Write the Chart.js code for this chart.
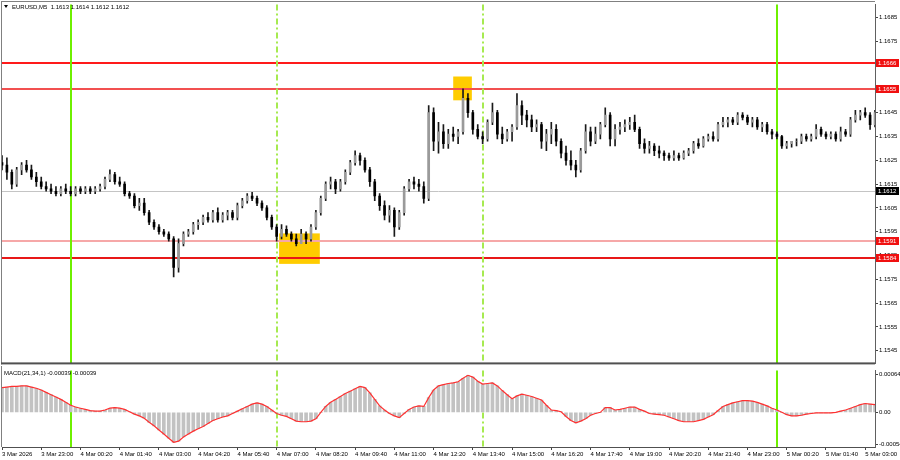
<!DOCTYPE html>
<html>
<head>
<meta charset="utf-8">
<script src="https://cdn.jsdelivr.net/npm/chart.js@4.4.1/dist/chart.umd.min.js"></script>
<style>
    html, body { margin: 0; padding: 0; background: #fff; }
    #wrap { position: relative; width: 900px; height: 460px; overflow: hidden; }
    #price { position: absolute; left: 0; top: 0; }
    #macd { position: absolute; left: 0; top: 366px; }
</style>
</head>
<body>
<div id="wrap">
    <canvas id="price" width="900" height="368"></canvas>
    <canvas id="macd" width="900" height="94"></canvas>
</div>
<script>
// EURUSD M5 candles, grouped by 10 minutes, first one = 3 Mar 21:40
const opens = [1.1624,
    1.1623,1.1620,1.1615,1.1621,1.1623,1.1621,1.1618,1.1616,1.1614,1.1613,
    1.1612,1.1611,1.1613,1.1612,1.1611,1.1613,1.1612,1.1613,1.1612,1.1613,
    1.1614,1.1617,1.1619,1.1616,1.1615,1.1611,1.1610,1.1606,1.1607,1.1603,
    1.1599,1.1597,1.1595,1.1594,1.1592,1.1580,1.1590,1.1594,1.1595,1.1598,
    1.1599,1.1601,1.1600,1.1603,1.1600,1.1602,1.1603,1.1601,1.1606,1.1608,
    1.1610,1.1609,1.1607,1.1605,1.1601,1.1597,1.1593,1.1596,1.1594,1.1592,
    1.1590,1.1594,1.1592,1.1597,1.1603,1.1609,1.1615,1.1616,1.1613,1.1616,
    1.1620,1.1624,1.1627,1.1625,1.1621,1.1616,1.1610,1.1606,1.1602,1.1604,
    1.1597,1.1603,1.1613,1.1616,1.1615,1.1614,1.1609,1.1645,1.1633,1.1637,
    1.1632,1.1636,1.1635,1.1637,1.1651,1.1645,1.1638,1.1635,1.1634,1.1641,
    1.1645,1.1636,1.1634,1.1637,1.1639,1.1648,1.1644,1.1642,1.1639,1.1640,
    1.1633,1.1636,1.1638,1.1633,1.1628,1.1625,1.1623,1.1621,1.1629,1.1637,
    1.1633,1.1636,1.1640,1.1644,1.1634,1.1638,1.1639,1.1640,1.1641,1.1638,
    1.1632,1.1630,1.1631,1.1629,1.1628,1.1627,1.1626,1.1627,1.1626,1.1628,
    1.1629,1.1632,1.1631,1.1634,1.1635,1.1634,1.1640,1.1641,1.1642,1.1641,
    1.1644,1.1643,1.1641,1.1642,1.1639,1.1640,1.1637,1.1636,1.1635,1.1631,
    1.1632,1.1633,1.1633,1.1635,1.1634,1.1635,1.1638,1.1636,1.1635,1.1636,
    1.1634,1.1637,1.1636,1.1642,1.1644,1.1645,1.1644,1.1640];
const highs = [1.1627,
    1.1626,1.1621,1.1622,1.1624,1.1625,1.1623,1.1620,1.1618,1.1616,1.1615,
    1.1614,1.1614,1.1615,1.1614,1.1614,1.1614,1.1614,1.1614,1.1614,1.1615,
    1.1618,1.1621,1.1620,1.1618,1.1616,1.1612,1.1611,1.1609,1.1609,1.1604,
    1.1600,1.1598,1.1596,1.1595,1.1593,1.1592,1.1595,1.1596,1.1599,1.1600,
    1.1602,1.1603,1.1604,1.1605,1.1603,1.1604,1.1604,1.1607,1.1609,1.1611,
    1.16115,1.1610,1.1608,1.1606,1.1602,1.1598,1.1598,1.15975,1.1595,1.1594,
    1.1596,1.1595,1.1598,1.1604,1.1610,1.1616,1.1618,1.1617,1.1617,1.1621,
    1.1625,1.1629,1.1628,1.1626,1.1622,1.1617,1.1611,1.1608,1.1606,1.1605,
    1.1604,1.1614,1.1617,1.1618,1.1617,1.1616,1.1648,1.1647,1.1641,1.1640,
    1.1638,1.1639,1.1638,1.1655,1.1653,1.1646,1.1640,1.1637,1.1642,1.1649,
    1.1646,1.1639,1.1638,1.1640,1.1653,1.1650,1.1646,1.1644,1.1642,1.1641,
    1.1638,1.1641,1.1640,1.1634,1.1631,1.1629,1.1625,1.1630,1.1640,1.1639,
    1.1639,1.1641,1.1647,1.1645,1.1640,1.1641,1.1642,1.1643,1.1644,1.1639,
    1.1634,1.1633,1.1632,1.1631,1.1629,1.1628,1.1629,1.1628,1.1629,1.1630,
    1.1633,1.1634,1.1635,1.1636,1.1637,1.1641,1.1643,1.1643,1.1643,1.1645,
    1.1645,1.1644,1.1643,1.1643,1.1641,1.1641,1.1638,1.1637,1.16355,1.1633,
    1.1633,1.1634,1.1636,1.1636,1.1636,1.1640,1.1639,1.1637,1.1637,1.1637,
    1.1639,1.1638,1.1643,1.1646,1.1646,1.1647,1.1645,1.1646];
const lows = [1.1621,
    1.1617,1.1613,1.1614,1.1619,1.1620,1.1617,1.1614,1.1613,1.1612,1.1611,
    1.1610,1.1610,1.1611,1.1610,1.1610,1.1611,1.1611,1.1611,1.1611,1.1612,
    1.1613,1.1616,1.1615,1.1614,1.1610,1.1609,1.1605,1.1604,1.1602,1.1598,
    1.1596,1.1594,1.1593,1.1591,1.1576,1.1578,1.1589,1.1593,1.1594,1.1596,
    1.1598,1.1599,1.1599,1.1599,1.1599,1.1600,1.1600,1.1600,1.1605,1.1607,
    1.1608,1.1606,1.1604,1.1600,1.1596,1.1591,1.1592,1.1593,1.1591,1.1589,
    1.1590,1.1590,1.1591,1.1596,1.1602,1.1608,1.1613,1.1611,1.1612,1.1615,
    1.1619,1.1623,1.1623,1.1620,1.1614,1.1608,1.1604,1.1600,1.1599,1.1593,
    1.1596,1.1602,1.1612,1.1613,1.1612,1.1607,1.1608,1.1629,1.1628,1.1630,
    1.1630,1.1633,1.1632,1.1636,1.1643,1.1636,1.1634,1.1632,1.1633,1.1640,
    1.1634,1.1632,1.1633,1.1633,1.1638,1.1640,1.1639,1.1637,1.1637,1.1630,
    1.1629,1.1632,1.1631,1.1626,1.1623,1.1621,1.1618,1.1620,1.1628,1.1631,
    1.1632,1.1634,1.1639,1.1631,1.1631,1.1636,1.1637,1.1638,1.1637,1.1630,
    1.1628,1.1628,1.1627,1.1626,1.1625,1.1625,1.1625,1.1625,1.16255,1.1627,
    1.1628,1.1630,1.16305,1.1633,1.1633,1.1633,1.1639,1.1639,1.1640,1.1640,
    1.1642,1.1640,1.1639,1.1638,1.1637,1.1636,1.1634,1.1634,1.1630,1.1630,
    1.16305,1.1631,1.1632,1.1633,1.1633,1.1634,1.1635,1.1634,1.1634,1.1633,
    1.1633,1.1635,1.1635,1.1641,1.1642,1.1643,1.1638,1.1639];
const closes = [1.1623,
    1.1620,1.1615,1.1621,1.1623,1.1621,1.1618,1.1616,1.1614,1.1613,1.1612,
    1.1611,1.1613,1.1612,1.1611,1.1613,1.1612,1.1613,1.1612,1.1613,1.1614,
    1.1617,1.1619,1.1616,1.1615,1.1611,1.1610,1.1606,1.1607,1.1603,1.1599,
    1.1597,1.1595,1.1594,1.1592,1.1580,1.1590,1.1594,1.1595,1.1598,1.1599,
    1.1601,1.1600,1.1603,1.1600,1.1602,1.1603,1.1601,1.1606,1.1608,1.1610,
    1.1609,1.1607,1.1605,1.1601,1.1597,1.1593,1.1596,1.1594,1.1592,1.1590,
    1.1594,1.1592,1.1597,1.1603,1.1609,1.1615,1.1616,1.1613,1.1616,1.1620,
    1.1624,1.1627,1.1625,1.1621,1.1616,1.1610,1.1606,1.1602,1.1604,1.1597,
    1.1603,1.1613,1.1616,1.1615,1.1614,1.1609,1.1645,1.1633,1.1637,1.1632,
    1.1636,1.1635,1.1637,1.1651,1.1645,1.1638,1.1635,1.1634,1.1641,1.1645,
    1.1636,1.1634,1.1637,1.1639,1.1648,1.1644,1.1642,1.1639,1.1640,1.1633,
    1.1636,1.1638,1.1633,1.1628,1.1625,1.1623,1.1621,1.1629,1.1637,1.1633,
    1.1636,1.1640,1.1644,1.1634,1.1638,1.1639,1.1640,1.1641,1.1638,1.1632,
    1.1630,1.1631,1.1629,1.1628,1.1627,1.1626,1.1627,1.1626,1.1628,1.1629,
    1.1632,1.1631,1.1634,1.1635,1.1634,1.1640,1.1641,1.1642,1.1641,1.1644,
    1.1643,1.1641,1.1642,1.1639,1.1640,1.1637,1.1636,1.1635,1.1631,1.1632,
    1.1633,1.1633,1.1635,1.1634,1.1635,1.1638,1.1636,1.1635,1.1636,1.1634,
    1.1637,1.1636,1.1642,1.1644,1.1645,1.1644,1.1640,1.1645];

// MACD(21,34,1) - signal period 1, so the signal line equals the histogram
const macdValues = [0.00042,
    0.00043,0.00044,0.00044,0.00045,0.00045,0.00043,0.00041,0.00038,0.00034,0.00030,
    0.00026,0.00022,0.00017,0.00012,0.00009,0.00007,0.00005,0.00003,0.00002,0.00002,
    0.00004,0.00007,0.00008,0.00007,0.00005,0.00001,-0.00003,-0.00006,-0.00010,-0.00017,
    -0.00023,-0.00030,-0.00037,-0.00044,-0.00051,-0.00049,-0.00042,-0.00037,-0.00032,-0.00028,
    -0.00024,-0.00019,-0.00014,-0.00011,-0.00008,-0.00006,-0.00002,0.00002,0.00006,0.00010,
    0.00014,0.00016,0.00014,0.00010,0.00004,-0.00002,-0.00005,-0.00007,-0.00011,-0.00015,
    -0.00016,-0.00016,-0.00015,-0.00011,0.00000,0.00010,0.00017,0.00022,0.00027,0.00032,
    0.00036,0.00040,0.00044,0.00042,0.00033,0.00022,0.00011,0.00004,-0.00002,-0.00006,
    -0.00009,-0.00002,0.00005,0.00009,0.00011,0.00010,0.00025,0.00038,0.00045,0.00047,
    0.00049,0.00050,0.00052,0.00058,0.00063,0.00060,0.00053,0.00048,0.00049,0.00050,
    0.00045,0.00037,0.00030,0.00023,0.00028,0.00031,0.00029,0.00027,0.00024,0.00021,
    0.00012,0.00004,0.00003,0.00001,-0.00007,-0.00014,-0.00018,-0.00015,-0.00011,-0.00005,
    -0.00002,0.00000,0.00008,0.00008,0.00004,0.00005,0.00007,0.00009,0.00009,0.00005,
    0.00002,-0.00002,-0.00003,-0.00004,-0.00005,-0.00008,-0.00011,-0.00014,-0.00016,-0.00016,
    -0.00016,-0.00014,-0.00012,-0.00008,-0.00004,0.00003,0.00010,0.00013,0.00016,0.00018,
    0.00020,0.00020,0.00019,0.00017,0.00014,0.00011,0.00007,0.00004,0.00000,-0.00004,
    -0.00006,-0.00006,-0.00005,-0.00003,-0.00002,-0.00001,-0.00001,-0.00001,-0.00001,0.00000,
    0.00002,0.00004,0.00007,0.00010,0.00013,0.00015,0.00014,0.00013];

// time axis labels, one every 8 candles (80 min)
const timeLabels = ['3 Mar 2026', '3 Mar 23:00', '4 Mar 00:20', '4 Mar 01:40', '4 Mar 03:00',
    '4 Mar 04:20', '4 Mar 05:40', '4 Mar 07:00', '4 Mar 08:20', '4 Mar 09:40', '4 Mar 11:00',
    '4 Mar 12:20', '4 Mar 13:40', '4 Mar 15:00', '4 Mar 16:20', '4 Mar 17:40', '4 Mar 19:00',
    '4 Mar 20:20', '4 Mar 21:40', '4 Mar 23:00', '5 Mar 00:20', '5 Mar 01:40', '5 Mar 03:00'];
const priceTicks = [1.1545, 1.1555, 1.1565, 1.1575, 1.1585, 1.1595, 1.1605, 1.1615,
    1.1625, 1.1635, 1.1645, 1.1655, 1.1665, 1.1675, 1.1685];
const macdTicks = [0.00064, 0, -0.00054];

// horizontal levels drawn on the chart
const levelPrices = [1.1666, 1.1655, 1.1591, 1.1584];
const lastPrice = 1.1612;

// candle indexes of the vertical separators
const dayBreaks = [14, 158];      // 4 Mar 00:00, 5 Mar 00:00
const sessionBreaks = [56, 98];   // 4 Mar 07:00, 4 Mar 14:00

// yellow signal zones (candle index range, price range)
const zoneFrom = [56.5, 92.0];
const zoneTo = [64.8, 95.8];
const zoneLow = [1.15815, 1.16502];
const zoneHigh = [1.15943, 1.16602];

const FONT = "'Liberation Sans', Arial, sans-serif";
Chart.defaults.font.family = FONT;
Chart.defaults.font.size = 6;
Chart.defaults.color = '#000';

const idx = opens.map((_, i) => i);
const isBull = i => closes[i] >= opens[i];

// Helper to draw a horizontal line across the plot
const hLine = (ctx, x1, x2, y, color, width) => {
    ctx.strokeStyle = color;
    ctx.lineWidth = width;
    ctx.beginPath();
    ctx.moveTo(x1, y);
    ctx.lineTo(x2, y);
    ctx.stroke();
};

// Green day / session separators, shared by both panels
const drawBreaks = (chart) => {
    const { ctx, chartArea: area, scales: { x } } = chart;
    ctx.save();
    ctx.lineWidth = 2;
    dayBreaks.forEach(i => {
        const px = Math.round(x.getPixelForValue(i));
        ctx.strokeStyle = '#6ef000';
        ctx.setLineDash([]);
        ctx.beginPath(); ctx.moveTo(px, area.top); ctx.lineTo(px, area.bottom); ctx.stroke();
    });
    sessionBreaks.forEach(i => {
        const px = Math.round(x.getPixelForValue(i));
        ctx.strokeStyle = '#a6ea50';
        ctx.setLineDash([6, 3, 2, 3]);
        ctx.beginPath(); ctx.moveTo(px, area.top); ctx.lineTo(px, area.bottom); ctx.stroke();
    });
    ctx.restore();
};

const priceOverlay = {
    id: 'priceOverlay',
    beforeDatasetsDraw(chart) {
        const { ctx, chartArea: area, scales: { x, y } } = chart;
        ctx.save();
        // signal zones
        ctx.fillStyle = '#ffcc00';
        zoneFrom.forEach((from, k) => {
            const left = x.getPixelForValue(from);
            const right = x.getPixelForValue(zoneTo[k]);
            const top = y.getPixelForValue(zoneHigh[k]);
            const bottom = y.getPixelForValue(zoneLow[k]);
            ctx.fillRect(left, top, right - left, bottom - top);
        });
        // current price line
        hLine(ctx, area.left, area.right, Math.round(y.getPixelForValue(lastPrice)) + 0.5, '#c4c4c4', 1);
        // support / resistance levels
        hLine(ctx, area.left, area.right, Math.round(y.getPixelForValue(levelPrices[0])), '#ff1a1a', 2);
        hLine(ctx, area.left, area.right, Math.round(y.getPixelForValue(levelPrices[1])), '#f25050', 2);
        hLine(ctx, area.left, area.right, Math.round(y.getPixelForValue(levelPrices[2])), '#f6a8a8', 2);
        hLine(ctx, area.left, area.right, Math.round(y.getPixelForValue(levelPrices[3])), '#e81818', 2);
        ctx.restore();
        drawBreaks(chart);
    },
    afterDraw(chart) {
        const { ctx, chartArea: area, scales: { y } } = chart;
        ctx.save();
        // frame
        ctx.fillStyle = '#808080';
        ctx.fillRect(1, 1, area.right - 1, 1);
        ctx.fillRect(1, 1, 1, area.bottom);
        ctx.fillStyle = '#505050';
        ctx.fillRect(1, area.bottom - 1, area.right - 1, 2);

        // price tags on the axis
        const tag = (value, bg) => {
            const py = Math.round(y.getPixelForValue(value));
            ctx.fillStyle = bg;
            ctx.fillRect(area.right + 1, py - 4, 23, 8);
            ctx.fillStyle = '#fff';
            ctx.font = '6px ' + FONT;
            ctx.textAlign = 'left';
            ctx.textBaseline = 'middle';
            ctx.fillText(value.toFixed(4), area.right + 3, py + 0.5);
        };
        levelPrices.forEach(v => tag(v, '#f01010'));
        tag(lastPrice, '#000');

        // symbol title
        ctx.fillStyle = '#000';
        ctx.beginPath();
        ctx.moveTo(4, 5); ctx.lineTo(8, 5); ctx.lineTo(6, 8); ctx.closePath(); ctx.fill();
        ctx.font = '6px ' + FONT;
        ctx.textAlign = 'left';
        ctx.textBaseline = 'middle';
        ctx.fillText('EURUSD,M5  1.1613 1.1614 1.1612 1.1612', 12, 7);
        ctx.restore();
    }
};

const macdOverlay = {
    id: 'macdOverlay',
    beforeDatasetsDraw(chart) {
        drawBreaks(chart);
    },
    afterDraw(chart) {
        const { ctx, chartArea: area } = chart;
        ctx.save();
        ctx.fillStyle = '#808080';
        ctx.fillRect(1, 0, 1, area.bottom);
        ctx.fillStyle = '#000';
        ctx.font = '6px ' + FONT;
        ctx.textAlign = 'left';
        ctx.textBaseline = 'middle';
        ctx.fillText('MACD(21,34,1) -0.00039 -0.00039', 4, 7);
        ctx.restore();
    }
};

// Price panel: wicks + bodies as floating bars
new Chart(document.getElementById('price'), {
    type: 'bar',
    data: {
        labels: idx,
        datasets: [
            {
                data: idx.map(i => [opens[i], closes[i]]),
                backgroundColor: c => isBull(c.dataIndex) ? '#9a9a9a' : '#000000',
                barThickness: 2,
                grouped: false,
                order: 0,
            },
            {
                data: idx.map(i => [lows[i], highs[i]]),
                backgroundColor: '#1a1a1a',
                barThickness: 1,
                grouped: false,
                order: 1,
            },
        ],
    },
    options: {
        responsive: false,
        animation: false,
        layout: { padding: { left: 2, top: 2, right: 0, bottom: 2 } },
        plugins: { legend: { display: false }, tooltip: { enabled: false } },
        scales: {
            x: { display: false, offset: false },
            y: {
                position: 'right',
                min: 1.15397,
                max: 1.16904,
                afterFit: s => { s.width = 25; },
                afterBuildTicks: s => { s.ticks = priceTicks.map(v => ({ value: v })); },
                ticks: { padding: 1, autoSkip: false, callback: v => v.toFixed(4) },
                grid: { drawOnChartArea: false, tickLength: 3, color: '#444' },
                border: { display: true, color: '#606060' },
            },
        },
    },
    plugins: [priceOverlay],
});

// MACD panel: histogram + signal line, with the time axis
new Chart(document.getElementById('macd'), {
    type: 'bar',
    data: {
        labels: idx,
        datasets: [
            {
                type: 'line',
                data: macdValues,
                borderColor: '#ff3030',
                borderWidth: 1.2,
                pointRadius: 0,
                tension: 0,
                order: 0,
            },
            {
                data: macdValues,
                backgroundColor: '#c2c2c2',
                barThickness: 3,
                order: 1,
            },
        ],
    },
    options: {
        responsive: false,
        animation: false,
        layout: { padding: { left: 2, top: 1, right: 0, bottom: 0 } },
        plugins: { legend: { display: false }, tooltip: { enabled: false } },
        scales: {
            x: {
                offset: false,
                afterBuildTicks: s => { s.ticks = s.ticks.filter(t => t.value % 8 === 0); },
                afterFit: s => { s.height = 13; },
                ticks: {
                    autoSkip: false,
                    maxRotation: 0,
                    align: 'start',
                    padding: 1,
                    callback: v => timeLabels[v / 8],
                },
                grid: { drawOnChartArea: false, tickLength: 3, color: '#444', offset: false },
                border: { display: true, color: '#505050' },
            },
            y: {
                position: 'right',
                min: -0.00059,
                max: 0.00071,
                afterFit: s => { s.width = 25; },
                afterBuildTicks: s => { s.ticks = macdTicks.map(v => ({ value: v })); },
                ticks: { padding: 1, callback: v => (v === 0 ? '0.00' : v.toFixed(5)) },
                grid: { drawOnChartArea: false, tickLength: 3, color: '#444' },
                border: { display: true, color: '#606060' },
            },
        },
    },
    plugins: [macdOverlay],
});
</script>
</body>
</html>
